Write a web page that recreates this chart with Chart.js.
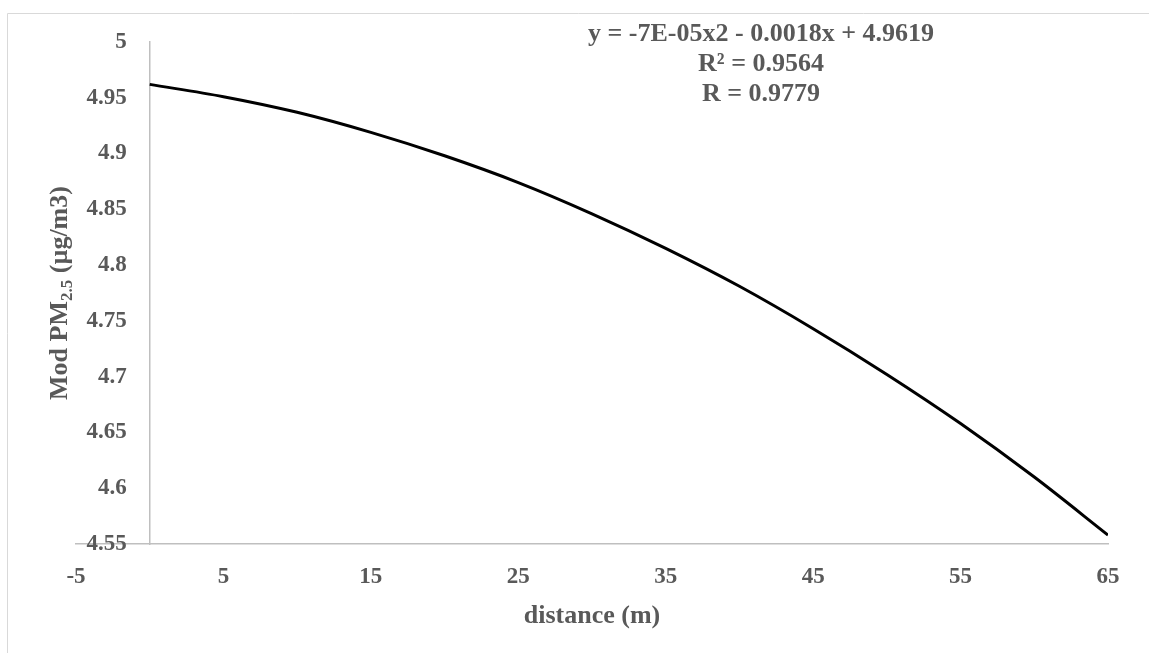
<!DOCTYPE html>
<html>
<head>
<meta charset="utf-8">
<script src="https://cdn.jsdelivr.net/npm/chart.js@4"></script>
<style>
  html, body { margin: 0; padding: 0; background: #fff; }
  #wrap { position: relative; width: 1149px; height: 653px; }
</style>
</head>
<body>
<div id="wrap"><canvas id="fitCanvas"></canvas></div>
<script>
// values
const distances = [0, 5, 10, 15, 20, 25, 30, 35, 40, 45, 50, 55, 60, 65];
const modPM = [4.962, 4.951, 4.937, 4.919, 4.898, 4.874, 4.846, 4.815, 4.781, 4.743, 4.702, 4.658, 4.610, 4.558];
const xTicks = [-5, 5, 15, 25, 35, 45, 55, 65];
const yTicks = [4.55, 4.6, 4.65, 4.7, 4.75, 4.8, 4.85, 4.9, 4.95, 5];
const fitLines = ["y = -7E-05x2 - 0.0018x + 4.9619", "R\u00b2 = 0.9564", "R = 0.9779"];

const textColor = "#595959";
const serif = "'Liberation Serif', 'Times New Roman', serif";

const extras = {
    id: "extras",
    beforeDraw(chart) {
        const ctx = chart.ctx;
        ctx.save();
        ctx.strokeStyle = "#d9d9d9";
        ctx.lineWidth = 1;
        ctx.beginPath();
        ctx.moveTo(7.5, 653);
        ctx.lineTo(7.5, 13.5);
        ctx.lineTo(1149, 13.5);
        ctx.stroke();
        ctx.restore();
    },
    afterDraw(chart) {
        const ctx = chart.ctx;
        const area = chart.chartArea;
        ctx.save();
        ctx.fillStyle = textColor;
        ctx.textAlign = "center";
        ctx.textBaseline = "middle";
        ctx.font = "bold 26px " + serif;
        fitLines.forEach((t, i) => ctx.fillText(t, 761, 34 + i * 30));

        // y title with subscript
        const big = "bold 26px " + serif, small = "bold 17px " + serif;
        const p1 = "Mod PM", p2 = "2.5", p3 = " (\u00b5g/m3)";
        ctx.font = big;
        const w1 = ctx.measureText(p1).width, w3 = ctx.measureText(p3).width;
        ctx.font = small;
        const w2 = ctx.measureText(p2).width;
        const total = w1 + w2 + w3;
        ctx.translate(58, (area.top + area.bottom) / 2);
        ctx.rotate(-Math.PI / 2);
        ctx.textAlign = "left";
        ctx.textBaseline = "alphabetic";
        let x = -total / 2;
        ctx.font = big;
        ctx.fillText(p1, x, 9);
        x += w1;
        ctx.font = small;
        ctx.fillText(p2, x, 14);
        x += w2;
        ctx.font = big;
        ctx.fillText(p3, x, 9);
        ctx.restore();
    }
};

new Chart(document.getElementById("fitCanvas"), {
    type: "scatter",
    data: {
        datasets: [{
            data: distances.map((d, i) => ({x: d, y: modPM[i]})),
            showLine: true,
            borderColor: "#000000",
            borderWidth: 3,
            pointRadius: 0,
            cubicInterpolationMode: "monotone"
        }]
    },
    options: {
        responsive: true,
        maintainAspectRatio: false,
        animation: false,
        layout: {
            padding: {left: 76, right: 41, top: 42, bottom: 21}
        },
        scales: {
            x: {
                type: "linear",
                min: xTicks[0],
                max: xTicks[xTicks.length - 1],
                afterBuildTicks: (s) => { s.ticks = xTicks.map(v => ({value: v})); },
                afterFit: (s) => { s.height = 88; },
                grid: {display: false, drawTicks: false},
                border: {display: true, color: "#bfbfbf", width: 1.5},
                ticks: {
                    color: textColor,
                    padding: 19,
                    maxRotation: 0,
                    font: {family: serif, size: 23, weight: "bold"}
                },
                title: {
                    display: true,
                    text: "distance (m)",
                    color: textColor,
                    padding: {top: 0, bottom: 0},
                    font: {family: serif, size: 26, weight: "bold"}
                }
            },
            y: {
                type: "linear",
                position: {x: 0},
                min: yTicks[0],
                max: yTicks[yTicks.length - 1],
                afterBuildTicks: (s) => { s.ticks = yTicks.map(v => ({value: v})); },
                grid: {display: false, drawTicks: false},
                border: {display: true, color: "#bfbfbf", width: 1.5},
                ticks: {
                    color: textColor,
                    // em space keeps the labels clear of the axis line
                    callback: (v) => String(+v.toFixed(2)) + "\u2003",
                    font: {family: serif, size: 23, weight: "bold"}
                }
            }
        },
        plugins: {
            legend: {display: false},
            tooltip: {enabled: false}
        }
    },
    plugins: [extras]
});
</script>
</body>
</html>
